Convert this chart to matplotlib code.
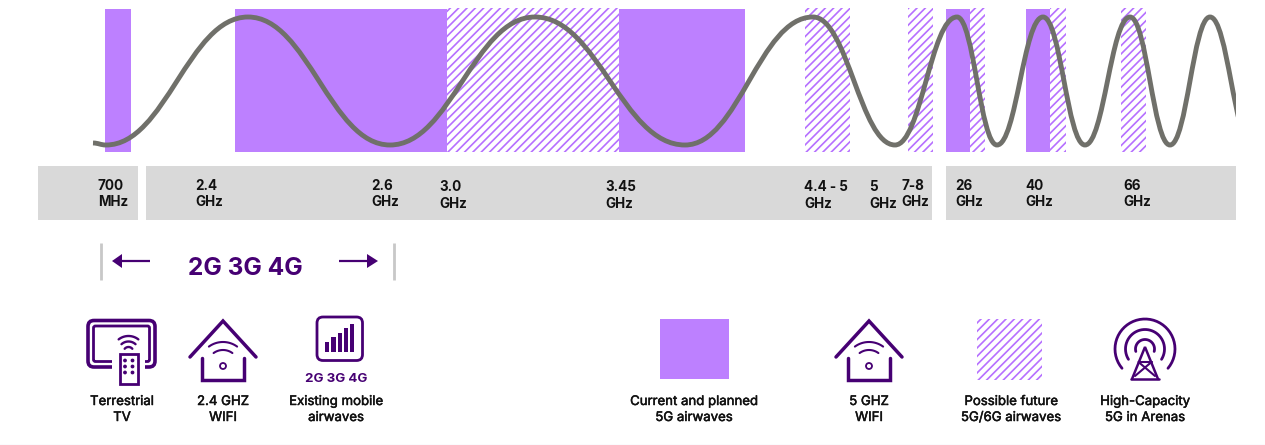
##
# Spectrum chart: 5G airwaves bands, wave and legend icons.
# Everything is drawn on a single axes in pixel units of the figure.
#

import numpy as np
import matplotlib
matplotlib.use('Agg')   # no display
import matplotlib.pyplot as plt
import matplotlib.patheffects as pe
from matplotlib.patches import Rectangle, Polygon, Circle, PathPatch, FancyBboxPatch
from matplotlib.path import Path

PURPLE = '#BD80FF'
HATCH = '#B670FF'
DARK = '#460073'
GREY = '#D9D9D9'
WAVE = '#70706A'
INK = '#111111'

# Band edges (x pixels)
current_bands = [(105, 131), (235, 447), (619, 745), (946, 970), (1026, 1050)]
future_bands = [(447, 619), (805, 850), (908, 933), (970, 985), (1050, 1066), (1121, 1146)]
grey_rows = [(38, 138), (146, 932), (946, 1236)]

# Crests and troughs of the wave, the last one runs off past the clip edge
wave_x = [93, 106, 248, 390, 535, 685, 813, 895, 957, 997, 1043, 1085, 1130, 1170, 1210, 1252]
wave_y = [143, 145, 17, 145, 17, 145, 17, 145, 17, 145, 17, 145, 17, 145, 17, 145]

freq_top = ['700', '2.4', '2.6', '3.0', '3.45', '4.4 - 5', '5', '7-8', '26', '40', '66']
freq_unit = ['MHz', 'GHz', 'GHz', 'GHz', 'GHz', 'GHz', 'GHz', 'GHz', 'GHz', 'GHz', 'GHz']
freq_x = [98, 195, 371, 439, 605, 804, 869, 901, 955, 1025, 1123]
freq_base = [190, 190, 190, 191, 191, 191, 191, 190, 190, 190, 190]

legend_text = ['Terrestrial\nTV', '2.4 GHZ\nWIFI', 'Existing mobile\nairwaves', 'Current and planned\n5G airwaves',
               '5 GHZ\nWIFI', 'Possible future\n5G/6G airwaves', 'High-Capacity\n5G in Arenas']
legend_x = [122, 223, 336, 694, 869, 1011, 1145]

plt.rcParams['font.family'] = ['Inter', 'DejaVu Sans']
plt.rcParams['hatch.linewidth'] = 1.2
plt.rcParams['hatch.color'] = HATCH

fig = plt.figure(figsize=(12.65, 4.45), dpi=100)
ax = fig.add_axes([0, 0, 1, 1])
ax.set_xlim(0, 1265)
ax.set_ylim(445, 0)
ax.axis('off')


def wave_path(xs, ys, k=0.42):
    """ Bezier segments between crests and troughs, flat at each of them. """
    verts = [(xs[0], ys[0])]
    codes = [Path.MOVETO]
    for i in range(len(xs) - 1):
        span = xs[i + 1] - xs[i]
        verts += [(xs[i] + k * span, ys[i]), (xs[i + 1] - k * span, ys[i + 1]), (xs[i + 1], ys[i + 1])]
        codes += [Path.CURVE4] * 3
    return Path(verts, codes)


def hatched(x0, x1, y0, y1):
    ax.add_patch(Rectangle((x0, y0), x1 - x0, y1 - y0, facecolor='white', edgecolor=HATCH,
                           hatch='////', linewidth=0, zorder=1))


def stroke(xs, ys, lw=1.9, color=DARK, cap='round'):
    ax.plot(xs, ys, color=color, linewidth=lw, solid_capstyle=cap, solid_joinstyle='miter', zorder=3)


def arc(cx, cy, r, a0, a1, lw=1.6):
    # angles in degrees, counter-clockwise as seen on screen
    t = np.radians(np.linspace(a0, a1, 40))
    stroke(cx + r * np.cos(t), cy - r * np.sin(t), lw=lw)


def rounded_open(x0, y0, x1, y1, r, gap0, gap1, lw=2.2):
    # rounded frame, open along the bottom between gap0 and gap1
    verts = [(gap0, y1), (x0 + r, y1), (x0, y1), (x0, y1 - r), (x0, y0 + r), (x0, y0), (x0 + r, y0),
             (x1 - r, y0), (x1, y0), (x1, y0 + r), (x1, y1 - r), (x1, y1), (x1 - r, y1), (gap1, y1)]
    codes = [Path.MOVETO, Path.LINETO, Path.CURVE3, Path.CURVE3, Path.LINETO, Path.CURVE3, Path.CURVE3,
             Path.LINETO, Path.CURVE3, Path.CURVE3, Path.LINETO, Path.CURVE3, Path.CURVE3, Path.LINETO]
    ax.add_patch(PathPatch(Path(verts, codes), facecolor='none', edgecolor=DARK, linewidth=lw, zorder=3))


def house(cx):
    stroke([cx - 33, cx, cx + 33], [357, 321, 357], lw=2.5)
    stroke([cx - 21, cx - 21, cx + 21, cx + 21], [358, 380, 380, 358], lw=2.5)
    ax.add_patch(Circle((cx, 366), 3, facecolor='none', edgecolor=DARK, linewidth=1.3, zorder=3))
    arc(cx, 366, 24, 90 - 36, 90 + 36, lw=1.5)
    arc(cx, 366, 16, 90 - 36, 90 + 36, lw=1.5)


def tv_icon():
    rounded_open(88, 320.5, 155, 367, 6, 112, 145, lw=2.6)
    rounded_open(93.5, 326, 149.5, 361.5, 2, 112, 145, lw=2)
    ax.add_patch(Rectangle((119.5, 354), 18.5, 29.5, facecolor='white', edgecolor=DARK, linewidth=2, zorder=3))
    for dx in [125, 132.5]:
        for dy in [360.5, 366.5, 372.5]:
            ax.add_patch(Circle((dx, dy), 1.2, color=DARK, zorder=4))
    arc(128.5, 352, 16, 90 - 38, 90 + 38, lw=1.7)
    arc(128.5, 352, 10.5, 90 - 42, 90 + 42, lw=1.7)
    arc(128.5, 352, 5, 90 - 50, 90 + 50, lw=1.7)


def signal_icon():
    ax.add_patch(FancyBboxPatch((320, 320), 39.5, 37.5, boxstyle='round,pad=3,rounding_size=6',
                                facecolor='none', edgecolor=DARK, linewidth=2, zorder=3))
    for left, top in zip([325, 331.3, 338, 344, 350], [342, 337, 333, 328, 324]):
        ax.add_patch(Rectangle((left, top), 4.4, 352 - top, color=DARK, linewidth=0, zorder=3))
    ax.text(336, 382, '2G 3G 4G', color=DARK, fontsize=9.6, fontweight='bold', ha='center', va='baseline')


def tower_icon():
    cx, cy = 1145, 349
    arc(cx, cy, 30, -40, 220, lw=2)
    arc(cx, cy, 19.5, -32, 212, lw=2)
    arc(cx, cy, 9.5, -15, 195, lw=2)
    stroke([cx - 13, cx, cx + 13], [379, 347, 379], lw=1.8)
    stroke([cx - 14, cx + 14], [379, 379], lw=1.8)
    stroke([cx - 6.5, cx + 6.5], [362, 362], lw=1.5)
    stroke([cx - 6.5, cx + 10], [362, 376], lw=1.5)
    stroke([cx + 6.5, cx - 10], [362, 376], lw=1.5)


# Bands and wave
for x0, x1 in current_bands:
    ax.add_patch(Rectangle((x0, 9), x1 - x0, 143, facecolor=PURPLE, linewidth=0, zorder=2))
for x0, x1 in future_bands:
    hatched(x0, x1, 8, 152)
wave = PathPatch(wave_path(wave_x, wave_y), facecolor='none', edgecolor=WAVE, linewidth=3.5,
                 capstyle='butt', zorder=4)
ax.add_patch(wave)
wave.set_clip_path(Rectangle((0, 0), 1235.5, 445, transform=ax.transData))

# Frequency rows
for x0, x1 in grey_rows:
    ax.add_patch(Rectangle((x0, 166), x1 - x0, 54, facecolor=GREY, linewidth=0, zorder=1))
for top, unit, x, base in zip(freq_top, freq_unit, freq_x, freq_base):
    ax.text(x, base, top, color=INK, fontsize=9.7, fontweight='bold', ha='left', va='baseline', zorder=5)
    ax.text(x, base + 16.5, unit, color=INK, fontsize=9.7, fontweight='bold', ha='left', va='baseline', zorder=5)

# 2G 3G 4G bracket
ax.plot([100.5, 100.5], [243, 280], color='#C8C8C8', linewidth=2, solid_capstyle='butt')
ax.plot([394, 394], [243, 280], color='#C8C8C8', linewidth=2, solid_capstyle='butt')
stroke([121, 150], [261, 261], lw=1.6, cap='butt')
stroke([339, 368], [261, 261], lw=1.6, cap='butt')
ax.add_patch(Polygon([(112, 261), (122, 254), (122, 268)], color=DARK, linewidth=0))
ax.add_patch(Polygon([(378, 261), (367, 254), (367, 268)], color=DARK, linewidth=0))
ax.text(245, 275, '2G 3G 4G', color=DARK, fontsize=17.6, fontweight='bold', ha='center', va='baseline')

# Legend
tv_icon()
house(223)
signal_icon()
ax.add_patch(Rectangle((660, 319), 69, 60, facecolor=PURPLE, linewidth=0))
house(869)
hatched(977, 1042, 319, 380)
tower_icon()
medium = [pe.withStroke(linewidth=0.35, foreground=INK)]
for label, x in zip(legend_text, legend_x):
    first, second = label.split('\n')
    ax.text(x, 405, first, color=INK, fontsize=9.5, ha='center', va='baseline', path_effects=medium)
    ax.text(x, 421, second, color=INK, fontsize=9.5, ha='center', va='baseline', path_effects=medium)

# Thin rule at the very bottom
ax.plot([0, 1265], [444.5, 444.5], color='#EFECF6', linewidth=1)

fig.savefig('out.png', dpi=100)
